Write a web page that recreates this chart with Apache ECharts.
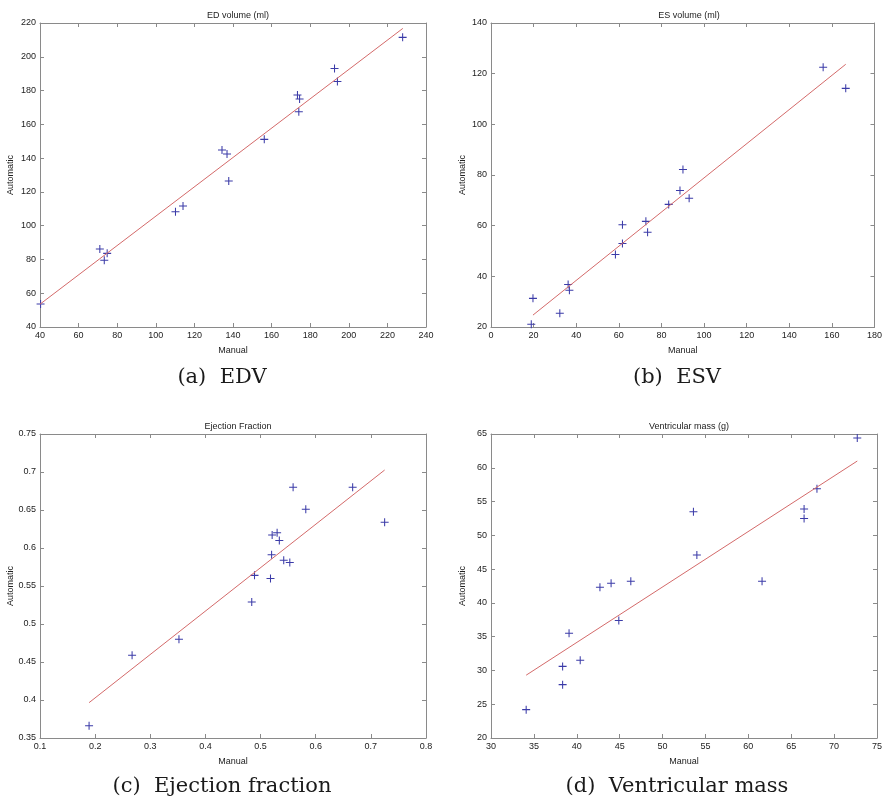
<!DOCTYPE html>
<html>
<head>
<meta charset="utf-8">
<script src="https://cdn.jsdelivr.net/npm/echarts@6/dist/echarts.min.js"></script>
<style>
  html, body { margin: 0; padding: 0; background: #fff; }
  #main { width: 885px; height: 807px; }
</style>
</head>
<body>
<div id="main"></div>
<script>
// (a) EDV  [manual, automatic]
var edvPoints = [[40.3, 53.6], [71.0, 86.2], [73.3, 79.5], [74.8, 83.6], [110.2, 108.3], [114.1, 111.6],
  [134.3, 144.8], [136.9, 142.4], [137.8, 126.4], [156.2, 151.1], [173.4, 177.4], [174.5, 175.0],
  [174.1, 167.5], [192.6, 193.1], [194.1, 185.3], [227.9, 211.5]];
var edvFit = [[40, 53.5], [228, 216.8]];

// (b) ESV
var esvPoints = [[18.9, 21.1], [19.7, 31.3], [32.3, 25.4], [36.2, 36.8], [36.8, 34.5], [58.4, 48.6],
  [61.7, 60.4], [61.7, 53.0], [72.7, 61.7], [73.5, 57.4], [83.4, 68.4], [88.7, 73.9],
  [90.1, 82.2], [93.0, 70.8], [155.9, 122.5], [166.5, 114.2]];
var esvFit = [[19.7, 24.7], [166.5, 123.7]];

// (c) ejection fraction
var efPoints = [[0.189, 0.366], [0.267, 0.459], [0.352, 0.480], [0.484, 0.529], [0.489, 0.564], [0.518, 0.560],
  [0.520, 0.591], [0.521, 0.617], [0.530, 0.620], [0.534, 0.610], [0.542, 0.584], [0.553, 0.581],
  [0.559, 0.680], [0.582, 0.651], [0.667, 0.680], [0.725, 0.634]];
var efFit = [[0.189, 0.3965], [0.725, 0.7026]];

// (d) ventricular mass
var massPoints = [[34.1, 24.2], [38.35, 30.6], [38.35, 27.9], [39.1, 35.5], [40.4, 31.5], [42.7, 42.3],
  [44.0, 42.9], [44.9, 37.4], [46.3, 43.2], [53.6, 53.5], [54.0, 47.1], [61.6, 43.2],
  [66.5, 53.9], [66.5, 52.5], [68.0, 56.9], [72.7, 64.4]];
var massFit = [[34.1, 29.3], [72.7, 61.0]];

var panelTitles = ['ED volume (ml)', 'ES volume (ml)', 'Ejection Fraction', 'Ventricular mass (g)'];
var captions = ['(a)  EDV', '(b)  ESV', '(c)  Ejection fraction', '(d)  Ventricular mass'];
var xRanges = [[40, 240, 20], [0, 180, 20], [0.1, 0.8, 0.1], [30, 75, 5]];
var yRanges = [[40, 220, 20], [20, 140, 20], [0.35, 0.75, 0.05], [20, 65, 5]];
var pointSets = [edvPoints, esvPoints, efPoints, massPoints];
var fitSets = [edvFit, esvFit, efFit, massFit];

var grids = [
  { left: 40, top: 23, width: 386, height: 304 },
  { left: 491, top: 23, width: 386, height: 304 },
  { left: 40, top: 434, width: 386, height: 304 },
  { left: 491, top: 434, width: 386, height: 304 }
];
var yNameGap = [25, 24, 25, 24];
var captionPos = [[222, 367], [677, 367], [222, 776], [677, 776]];

var frameColor = '#8a8a8a';
var txtFont = 'Liberation Sans';
var plusPath = 'path://M4.35,0h1.3v4.35h4.35v1.3h-4.35v4.35h-1.3v-4.35h-4.35v-1.3h4.35z';

var chart = echarts.init(document.getElementById('main'));
var option = {
  backgroundColor: '#fff',
  animation: false,
  title: [],
  grid: [],
  xAxis: [],
  yAxis: [],
  series: []
};

function axisBase(r, gi) {
  return {
    type: 'value', gridIndex: gi, min: r[0], max: r[1], interval: r[2],
    axisLine: { show: true, onZero: false, lineStyle: { color: frameColor, width: 1 } },
    axisTick: { show: true, inside: true, length: 4, lineStyle: { color: frameColor } },
    splitLine: { show: false },
    axisLabel: { color: '#222', fontFamily: txtFont, fontSize: 9, margin: 4 }
  };
}

for (var i = 0; i < 4; i++) {
  var g = grids[i];
  option.grid.push(g);
  option.title.push({
    text: panelTitles[i], left: g.left + g.width / 2, top: g.top - 17, textAlign: 'center',
    textStyle: { fontFamily: txtFont, fontSize: 9, fontWeight: 'normal', color: '#222' }
  });
  option.title.push({
    text: captions[i], left: captionPos[i][0], top: captionPos[i][1], textAlign: 'center', padding: 0,
    textStyle: { fontFamily: 'DejaVu Serif', fontSize: 21, fontWeight: 'normal', color: '#1a1a1a' }
  });

  var xb = axisBase(xRanges[i], i);
  xb.position = 'bottom';
  xb.name = 'Manual';
  xb.nameLocation = 'middle';
  xb.nameGap = 19;
  xb.nameTextStyle = { fontFamily: txtFont, fontSize: 9, color: '#222' };
  var xt = axisBase(xRanges[i], i);
  xt.position = 'top';
  xt.axisLabel = { show: false };
  option.xAxis.push(xb, xt);

  var yl = axisBase(yRanges[i], i);
  yl.position = 'left';
  yl.name = 'Automatic';
  yl.nameLocation = 'middle';
  yl.nameGap = yNameGap[i];
  yl.nameTextStyle = { fontFamily: txtFont, fontSize: 9, color: '#222' };
  var yr = axisBase(yRanges[i], i);
  yr.position = 'right';
  yr.axisLabel = { show: false };
  option.yAxis.push(yl, yr);

  option.series.push({
    type: 'line', xAxisIndex: 2 * i, yAxisIndex: 2 * i, data: fitSets[i],
    symbol: 'none', silent: true,
    lineStyle: { color: '#d46a6a', width: 1 }
  });
  option.series.push({
    type: 'scatter', xAxisIndex: 2 * i, yAxisIndex: 2 * i, data: pointSets[i],
    symbol: plusPath, symbolSize: 8,
    itemStyle: { color: '#3b3ba8', opacity: 1 }
  });
}

chart.setOption(option);
</script>
</body>
</html>
